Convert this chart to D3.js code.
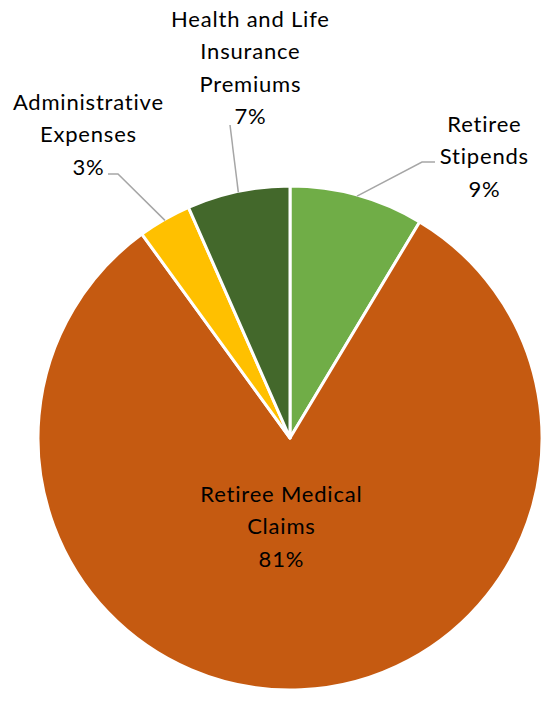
<!DOCTYPE html>
<html>
<head>
<meta charset="utf-8">
<script src="https://cdn.jsdelivr.net/npm/d3@7"></script>
<style>
  html, body { margin: 0; padding: 0; background: #ffffff; }
  svg { display: block; }
</style>
</head>
<body>
<svg id="chart" width="548" height="702"></svg>
<script>
// ---- Data ----
const categories = ["Retiree Stipends", "Retiree Medical Claims", "Administrative Expenses", "Health and Life Insurance Premiums"];
const values = [8.6, 81.4, 3.4, 6.6];
const percentLabels = ["9%", "81%", "3%", "7%"];
const labelLines = [["Retiree", "Stipends"], ["Retiree Medical", "Claims"], ["Administrative", "Expenses"], ["Health and Life", "Insurance", "Premiums"]];
const colors = ["#70AD47", "#C55A11", "#FFC000", "#43682B"];

// ---- Layout ----
const W = 548, H = 702;
const cx = 290, cy = 438, R = 252;
const fontFamily = "Lato, 'Open Sans', 'Liberation Sans', sans-serif";
const fontSize = 22;
const letterSpacing = 0.8;
const lineGap = 32.4;
const labelLayout = [
  { x: 484, y: 132, leader: [[435, 162], [422, 162]] },
  { x: 281, y: 502, leader: null },
  { x: 88, y: 110, leader: [[108, 174], [118, 174]] },
  { x: 250, y: 27, leader: [[230, 125]] }
];

const svg = d3.select("#chart");

const pie = d3.pie().sort(null).value(d => d);
const arcs = pie(values);
const arc = d3.arc().innerRadius(0).outerRadius(R);

const g = svg.append("g").attr("transform", `translate(${cx},${cy})`);
g.selectAll("path.slice")
  .data(arcs)
  .enter().append("path")
  .attr("class", "slice")
  .attr("d", arc)
  .attr("fill", (d, i) => colors[i])
  .attr("stroke", "#ffffff")
  .attr("stroke-width", 3)
  .attr("stroke-linejoin", "round");

arcs.forEach((d, i) => {
  const lay = labelLayout[i];
  if (!lay.leader) return;
  const mid = (d.startAngle + d.endAngle) / 2;
  const ex = cx + (R - 1) * Math.sin(mid);
  const ey = cy - (R - 1) * Math.cos(mid);
  const pts = lay.leader.concat([[ex, ey]]);
  svg.append("path")
    .attr("d", d3.line()(pts))
    .attr("fill", "none")
    .attr("stroke", "#A6A6A6")
    .attr("stroke-width", 1.5);
});

arcs.forEach((d, i) => {
  const lay = labelLayout[i];
  const lines = labelLines[i].concat([percentLabels[i]]);
  const t = svg.append("text")
    .attr("font-family", fontFamily)
    .attr("font-size", fontSize)
    .attr("letter-spacing", letterSpacing)
    .attr("fill", "#000000")
    .attr("text-anchor", "middle");
  lines.forEach((ln, k) => {
    t.append("tspan").attr("x", lay.x + letterSpacing / 2).attr("y", lay.y + k * lineGap).text(ln);
  });
});
</script>
</body>
</html>
